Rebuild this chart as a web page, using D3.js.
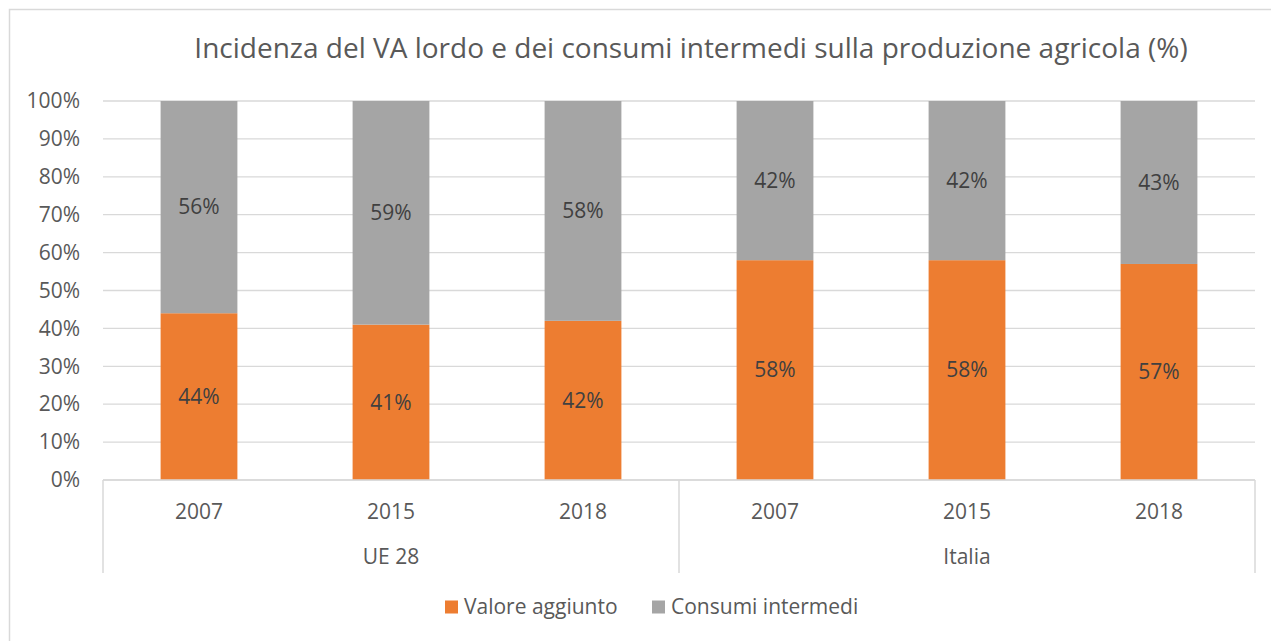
<!DOCTYPE html>
<html>
<head>
<meta charset="utf-8">
<script src="https://cdn.jsdelivr.net/npm/d3@7"></script>
<style>
  body { margin: 0; background: #fff; }
  svg { font-family: "Open Sans", "Liberation Sans", sans-serif; }
</style>
</head>
<body>
<div id="chart"></div>
<script>
// Data
const groups = ["UE 28", "Italia"];
const years = ["2007", "2015", "2018"];
const valoreAggiunto = [44, 41, 42, 58, 58, 57];
const consumiIntermedi = [56, 59, 58, 42, 42, 43];
const seriesNames = ["Valore aggiunto", "Consumi intermedi"];
const yTicks = [0, 10, 20, 30, 40, 50, 60, 70, 80, 90, 100];

const colors = ["#ED7D31", "#A5A5A5"];
const W = 1271, H = 641;
const margin = { top: 101, right: 16, bottom: 161, left: 103 };
const width = 1255 - margin.left;
const height = 480 - margin.top;
const fs = '21px';

const svg = d3.select('#chart')
    .append('svg')
    .attr('width', W)
    .attr('height', H);

// outer chart border
svg.append('rect')
    .attr('x', 9.5).attr('y', 9.5)
    .attr('width', W + 20).attr('height', H + 20)
    .attr('fill', 'none')
    .attr('stroke', '#d9d9d9')
    .attr('stroke-width', 1.5);

svg.append('text')
    .attr('x', 691)
    .attr('y', 58)
    .attr('text-anchor', 'middle')
    .attr('fill', '#595959')
    .style('font-size', '28px')
    .text('Incidenza del VA lordo e dei consumi intermedi sulla produzione agricola (%)');

const g = svg.append('g')
    .attr('transform', `translate(${margin.left}, ${margin.top})`);

// table rows built from the arrays
const rows = [];
groups.forEach((grp, gi) => {
    years.forEach((yr, yi) => {
        const i = gi * years.length + yi;
        rows.push({ key: grp + '|' + yr, group: grp, year: yr, va: valoreAggiunto[i], ci: consumiIntermedi[i] });
    });
});

const x = d3.scaleBand()
    .domain(rows.map(d => d.key))
    .range([0, width])
    .paddingInner(0.6)
    .paddingOuter(0.3);

const y = d3.scaleLinear()
    .domain([0, 100])
    .range([height, 0]);

// gridlines
g.selectAll('.grid')
    .data(yTicks)
    .join('line')
    .attr('class', 'grid')
    .attr('x1', 0).attr('x2', width)
    .attr('y1', d => y(d)).attr('y2', d => y(d))
    .attr('stroke', '#d9d9d9')
    .attr('stroke-width', 1.3);

// y axis labels
const yAxis = d3.axisLeft(y)
    .tickValues(yTicks)
    .tickSize(0)
    .tickPadding(23)
    .tickFormat(d => d + '%');

g.append('g')
    .call(yAxis)
    .call(a => a.select('.domain').remove())
    .selectAll('text')
    .attr('fill', '#595959')
    .style('font-size', fs)
    .style('font-family', '"Open Sans", sans-serif');

// stacked bars
const stack = d3.stack().keys(['va', 'ci']);
const layers = stack(rows);

const layer = g.selectAll('.layer')
    .data(layers)
    .join('g')
    .attr('class', 'layer')
    .attr('fill', (d, i) => colors[i]);

layer.selectAll('rect')
    .data(d => d)
    .join('rect')
    .attr('x', d => x(d.data.key))
    .attr('y', d => y(d[1]))
    .attr('width', x.bandwidth())
    .attr('height', d => y(d[0]) - y(d[1]));

layer.selectAll('text')
    .data(d => d)
    .join('text')
    .attr('x', d => x(d.data.key) + x.bandwidth() / 2)
    .attr('y', d => (y(d[0]) + y(d[1])) / 2)
    .attr('dy', '0.35em')
    .attr('text-anchor', 'middle')
    .attr('fill', '#404040')
    .style('font-size', fs)
    .text(d => Math.round(d[1] - d[0]) + '%');

// category axis line
g.append('line')
    .attr('x1', 0).attr('x2', width)
    .attr('y1', height).attr('y2', height)
    .attr('stroke', '#d9d9d9')
    .attr('stroke-width', 1.5);

// group separators
const step = x.step();
const sepX = [0];
groups.forEach((grp, gi) => sepX.push((gi + 1) * years.length * step));
g.selectAll('.sep')
    .data(sepX)
    .join('line')
    .attr('class', 'sep')
    .attr('x1', d => d).attr('x2', d => d)
    .attr('y1', height).attr('y2', height + 93)
    .attr('stroke', '#d9d9d9')
    .attr('stroke-width', 1.5);

// year labels
g.selectAll('.yr')
    .data(rows)
    .join('text')
    .attr('class', 'yr')
    .attr('x', d => x(d.key) + x.bandwidth() / 2)
    .attr('y', height + 32)
    .attr('dy', '0.35em')
    .attr('text-anchor', 'middle')
    .attr('fill', '#595959')
    .style('font-size', fs)
    .text(d => d.year);

// group labels
g.selectAll('.grp')
    .data(groups)
    .join('text')
    .attr('class', 'grp')
    .attr('x', (d, i) => (i + 0.5) * years.length * step)
    .attr('y', height + 77)
    .attr('dy', '0.35em')
    .attr('text-anchor', 'middle')
    .attr('fill', '#595959')
    .style('font-size', fs)
    .text(d => d);

// legend
const legendX = [445, 652];
const legend = svg.selectAll('.legend')
    .data(seriesNames)
    .join('g')
    .attr('class', 'legend')
    .attr('transform', (d, i) => `translate(${legendX[i]}, 607)`);

legend.append('rect')
    .attr('x', 0).attr('y', -6.5)
    .attr('width', 13).attr('height', 13)
    .attr('fill', (d, i) => colors[i]);

legend.append('text')
    .attr('x', 19)
    .attr('dy', '0.35em')
    .attr('fill', '#595959')
    .style('font-size', fs)
    .text(d => d);
</script>
</body>
</html>
